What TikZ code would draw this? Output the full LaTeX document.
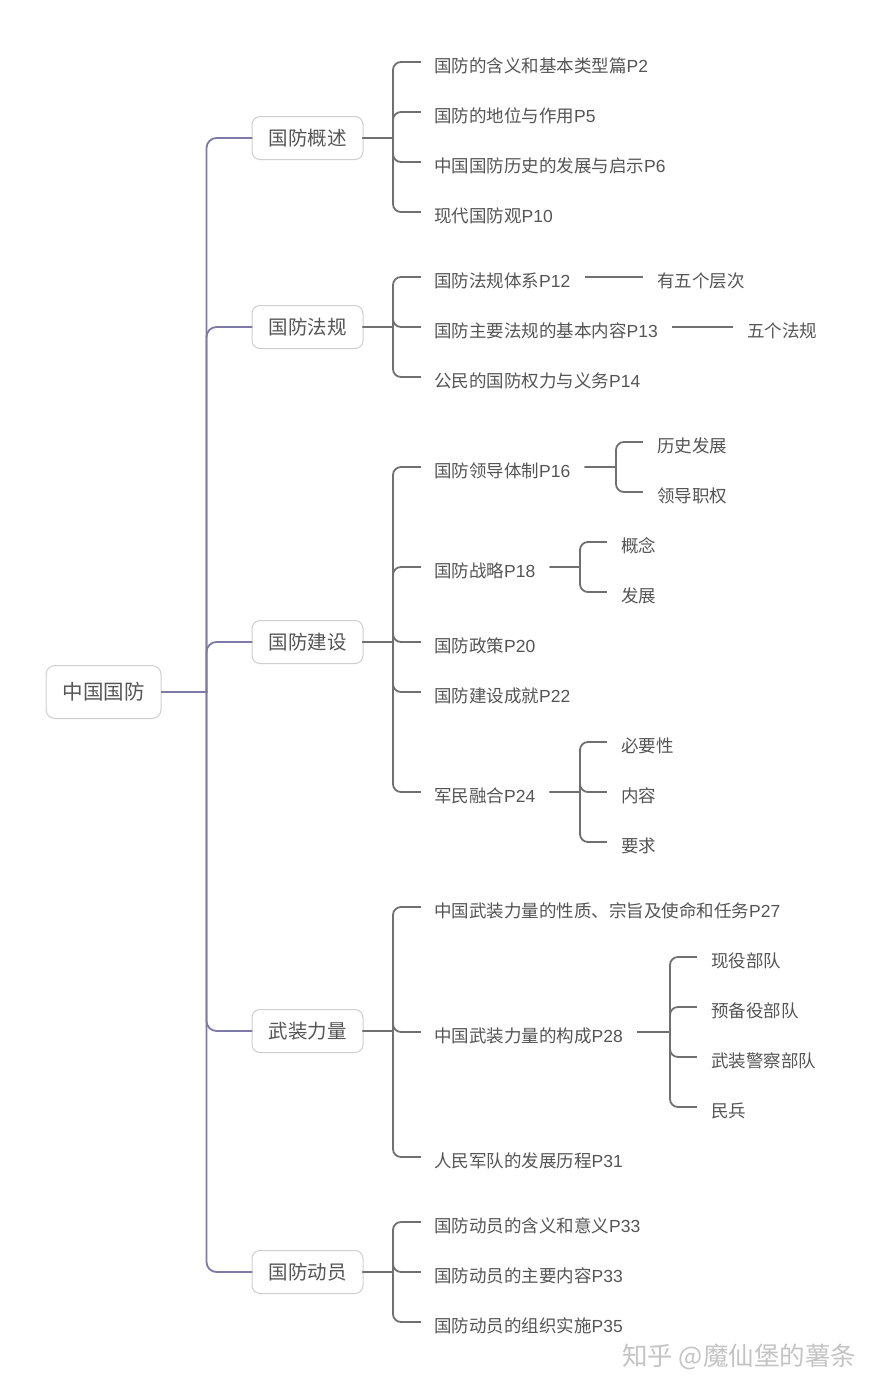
\documentclass[tikz,border=0pt]{standalone}
\usepackage{fontspec}
\setmainfont{Noto Sans CJK SC}
\newfontfamily\latf{Liberation Sans}
\usetikzlibrary{calc}
\definecolor{txt}{HTML}{555555}
\definecolor{boxc}{HTML}{CFCFCF}
\definecolor{purp}{HTML}{7E7AA8}
\definecolor{linec}{HTML}{707070}
\definecolor{wmark}{HTML}{C4C4C4}
\newcommand{\pg}[1]{{\latf #1}}
\begin{document}
\begin{tikzpicture}[x=1pt,y=-1pt,
  leaf/.style={font=\fontsize{17.5}{20}\selectfont, text=txt, inner sep=0pt, anchor=west, text height=15.4pt, text depth=2.1pt},
  topic/.style={draw=boxc, line width=1pt, rounded corners=8pt, font=\fontsize{19.5}{22}\selectfont, text=txt, minimum width=111pt, minimum height=43pt, inner sep=0pt},
  rootbox/.style={draw=boxc, line width=1pt, rounded corners=9pt, font=\fontsize{20.5}{23}\selectfont, text=txt, minimum width=115pt, minimum height=53pt, inner sep=0pt},
  cone/.style={draw=purp, line width=1.8pt, rounded corners=10pt, line cap=rect},
  ctwo/.style={draw=linec, line width=1.8pt, rounded corners=8pt, line cap=rect}]
\useasboundingbox (0,0) rectangle (882,1393);
\fill[white] (0,0) rectangle (882,1393);

% root and topics
\node[rootbox] (root) at (103.5,692) {中国国防};
\node[topic] (t1) at (307.5,138) {国防概述};
\node[topic] (t2) at (307.5,327) {国防法规};
\node[topic] (t3) at (307.5,642) {国防建设};
\node[topic] (t4) at (307.5,1031) {武装力量};
\node[topic] (t5) at (307.5,1272) {国防动员};

% level 2
\node[leaf] (a11) at (434,66) {国防的含义和基本类型篇\pg{P2}};
\node[leaf] (a12) at (434,116) {国防的地位与作用\pg{P5}};
\node[leaf] (a13) at (434,166) {中国国防历史的发展与启示\pg{P6}};
\node[leaf] (a14) at (434,216) {现代国防观\pg{P10}};

\node[leaf] (a21) at (434,281) {国防法规体系\pg{P12}};
\node[leaf] (a22) at (434,331) {国防主要法规的基本内容\pg{P13}};
\node[leaf] (a23) at (434,381) {公民的国防权力与义务\pg{P14}};

\node[leaf] (a31) at (434,471) {国防领导体制\pg{P16}};
\node[leaf] (a32) at (434,571) {国防战略\pg{P18}};
\node[leaf] (a33) at (434,646) {国防政策\pg{P20}};
\node[leaf] (a34) at (434,696) {国防建设成就\pg{P22}};
\node[leaf] (a35) at (434,796) {军民融合\pg{P24}};

\node[leaf] (a41) at (434,911) {中国武装力量的性质、宗旨及使命和任务\pg{P27}};
\node[leaf] (a42) at (434,1036) {中国武装力量的构成\pg{P28}};
\node[leaf] (a43) at (434,1161) {人民军队的发展历程\pg{P31}};

\node[leaf] (a51) at (434,1226) {国防动员的含义和意义\pg{P33}};
\node[leaf] (a52) at (434,1276) {国防动员的主要内容\pg{P33}};
\node[leaf] (a53) at (434,1326) {国防动员的组织实施\pg{P35}};

% level 3
\node[leaf] (b21) at (657,281) {有五个层次};
\node[leaf] (b22) at (747,331) {五个法规};

\node[leaf] (b311) at (657,446) {历史发展};
\node[leaf] (b312) at (657,496) {领导职权};
\node[leaf] (b321) at (621,546) {概念};
\node[leaf] (b322) at (621,596) {发展};
\node[leaf] (b351) at (621,746) {必要性};
\node[leaf] (b352) at (621,796) {内容};
\node[leaf] (b353) at (621,846) {要求};

\node[leaf] (b421) at (711,961) {现役部队};
\node[leaf] (b422) at (711,1011) {预备役部队};
\node[leaf] (b423) at (711,1061) {武装警察部队};
\node[leaf] (b424) at (711,1111) {民兵};

% root -> topics
\coordinate (J0) at ($(root.east -| t1.west)+(-45,0)$);
\draw[cone] (root.east) -- (J0);
\foreach \t in {t1,t2,t3,t4,t5}
  \draw[cone] (J0) |- (\t.west);

% topics -> level 2
\foreach \t/\c in {t1/a11,t1/a12,t1/a13,t1/a14,
                   t2/a21,t2/a22,t2/a23,
                   t3/a31,t3/a32,t3/a33,t3/a34,t3/a35,
                   t4/a41,t4/a42,t4/a43,
                   t5/a51,t5/a52,t5/a53}
  \draw[ctwo] (\t.east) -- ($(\t.east -| \c.west)+(-41,0)$) coordinate (jj)
              (jj) |- ($(\c.west)+(-14,-4)$);

% straight level 3
\draw[ctwo] ($(a21.east)+(15,-4)$) -- ($(b21.west)+(-15,-4)$);
\draw[ctwo] ($(a22.east)+(15,-4)$) -- ($(b22.west)+(-15,-4)$);

% bracketed level 3
\foreach \p/\c in {a31/b311,a31/b312,a32/b321,a32/b322,
                   a35/b351,a35/b352,a35/b353,
                   a42/b421,a42/b422,a42/b423,a42/b424}
  \draw[ctwo] ($(\p.east)+(15,-4)$) -- ($(\p.east -| \c.west)+(-41,-4)$) coordinate (kk)
              (kk) |- ($(\c.west)+(-15,-4)$);

% watermark
\node[font=\fontsize{25.5}{28}\selectfont, text=wmark, inner sep=0pt, anchor=west] (wm) at (622,1357) {知乎 @魔仙堡的薯条};
\end{tikzpicture}
\end{document}
